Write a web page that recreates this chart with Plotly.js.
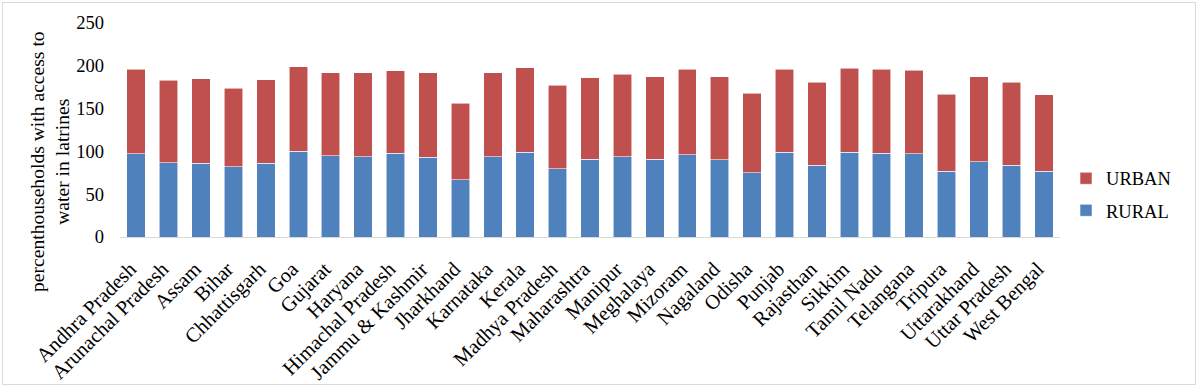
<!DOCTYPE html>
<html><head><meta charset="utf-8">
<script src="https://cdn.plot.ly/plotly-3.0.1.min.js"></script>
<style>
html,body{margin:0;padding:0;background:#fff;}
#frame{position:absolute;left:2px;top:2px;width:1194px;height:383px;border:1px solid #d9d9d9;pointer-events:none;box-sizing:border-box}
</style>
</head><body>
<div id="chart" style="width:1200px;height:387px;"></div>
<div id="frame"></div>
<script>
const states = ["Andhra Pradesh","Arunachal Pradesh","Assam","Bihar","Chhattisgarh","Goa","Gujarat","Haryana","Himachal Pradesh","Jammu & Kashmir","Jharkhand","Karnataka","Kerala","Madhya Pradesh","Maharashtra","Manipur","Meghalaya","Mizoram","Nagaland","Odisha","Punjab","Rajasthan","Sikkim","Tamil Nadu","Telangana","Tripura","Uttarakhand","Uttar Pradesh","West Bengal"];
const rural = [97,87,86,82,86,100,95,94,98,93,67,94,99,80,91,94,91,96,90,75,99,84,99,98,97,77,88,84,77];
const urban = [99,96,99,92,98,99,97,98,96,99,89,98,99,97,95,96,96,100,97,93,97,97,98,98,98,90,99,97,89];
const yTicks = [0,50,100,150,200,250];

const serif = "Liberation Serif, Times New Roman, serif";
const traces = [
  {type:'bar', name:'RURAL', x:states, y:rural, legendgroup:'r', legendrank:2,
   marker:{color:'#4F81BD', line:{color:'rgba(255,255,255,0.7)', width:0.8}}},
  {type:'bar', name:'URBAN', x:states, y:urban, legendgroup:'u', legendrank:1,
   marker:{color:'#C0504D', line:{color:'rgba(255,255,255,0.7)', width:0.8}}}
];
const layout = {
  width:1200, height:387,
  margin:{l:120, r:140, t:23, b:150, pad:0},
  barmode:'stack', bargap:0.43,
  paper_bgcolor:'#fff', plot_bgcolor:'#fff',
  font:{family:serif, size:18, color:'#000'},
  showlegend:true,
  legend:{x:1.0064, xanchor:'left', y:0.361, yanchor:'top', traceorder:'grouped', tracegroupgap:5,
          font:{family:serif, size:18.5, color:'#000'}, bgcolor:'rgba(0,0,0,0)'},
  xaxis:{type:'category', range:[-0.5,28.5], showline:true, linecolor:'#d9d9d9', linewidth:1,
         ticks:'', tickangle:-45, showgrid:false, zeroline:false, ticklabelstandoff:11, ticklabelshift:-6,
         tickfont:{family:serif, size:20.5, color:'#000'}},
  yaxis:{range:[0,250], tickvals:yTicks, showline:false, showgrid:false, zeroline:false, ticks:'',
         ticklabelstandoff:15, tickfont:{family:serif, size:18.5, color:'#000'}},
  annotations:[{xref:'paper', yref:'paper', x:(50-120)/940, y:(237-162)/214, xanchor:'center', yanchor:'middle',
    textangle:-90, showarrow:false, text:'percenthouseholds with access to<br>water in latrines',
    font:{family:serif, size:19.6, color:'#000'}}]
};
Plotly.newPlot('chart', traces, layout, {staticPlot:true, displayModeBar:false});
</script>
</body></html>
